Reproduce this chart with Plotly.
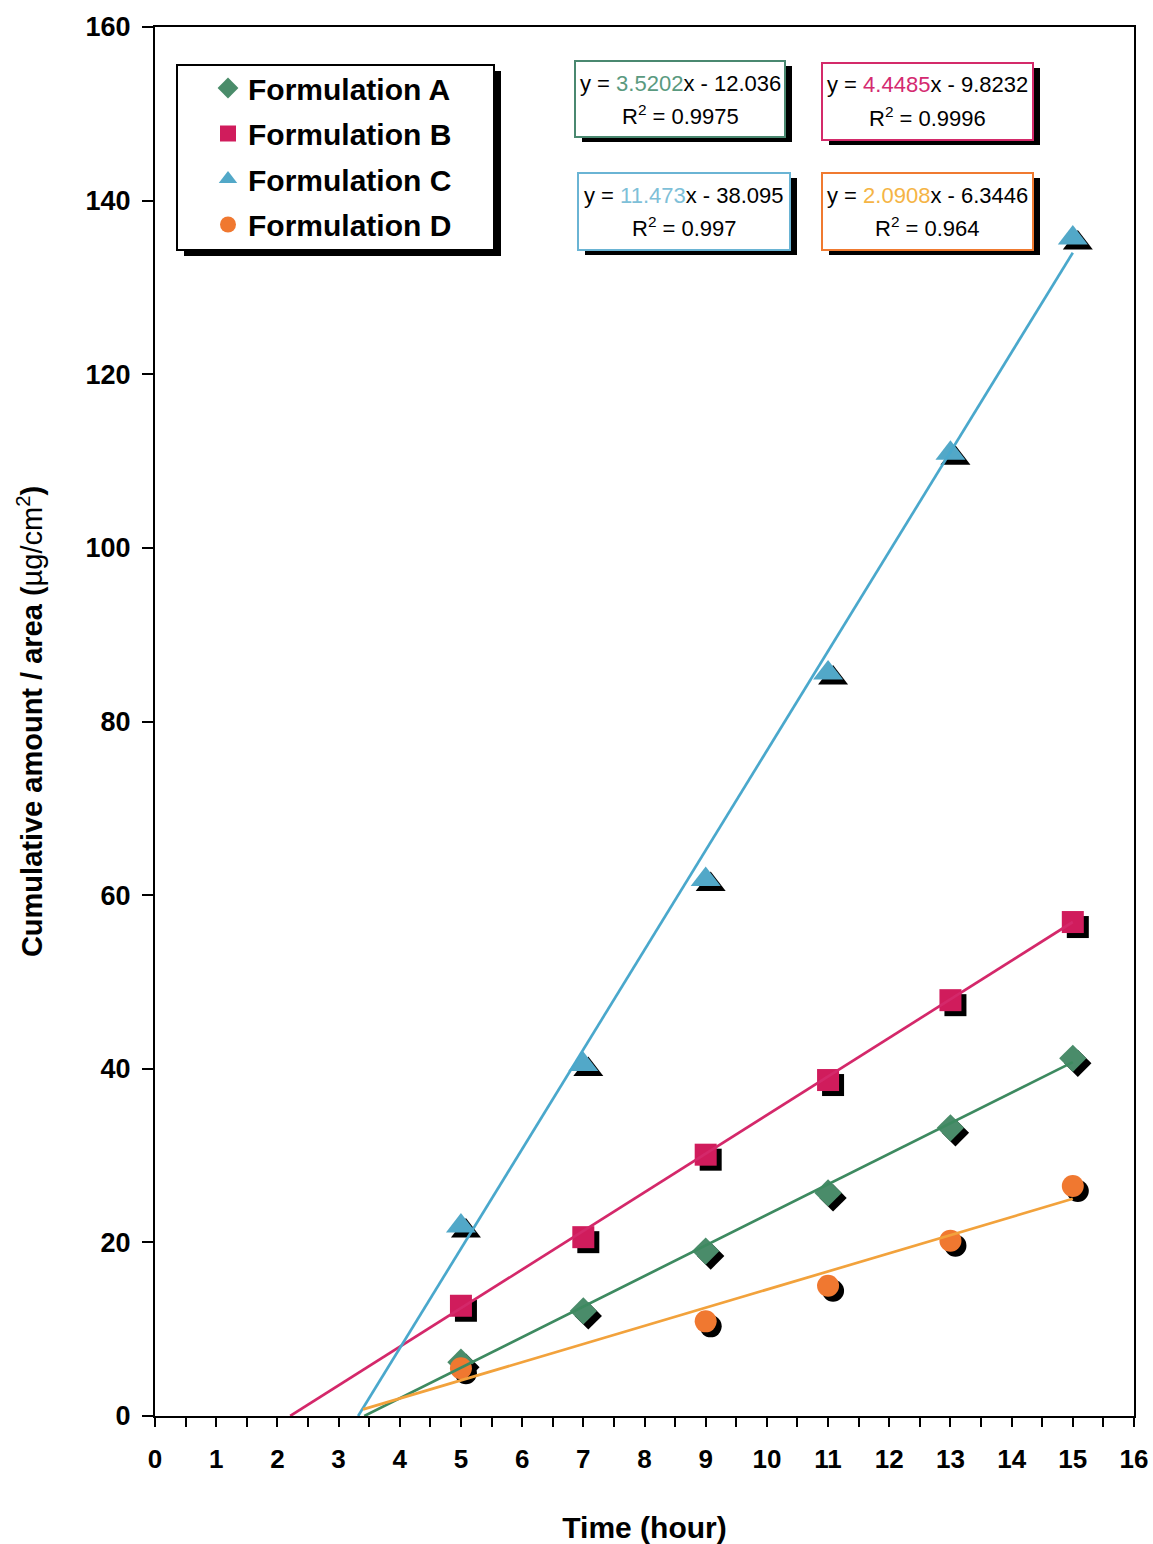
import plotly.graph_objects as go

# ---------------- data ----------------
time_h = [5, 7, 9, 11, 13, 15]
form_a = [6.2, 12.1, 19.0, 25.7, 33.2, 41.2]
form_b = [12.7, 20.6, 30.1, 38.7, 47.9, 56.9]
form_c = [21.9, 40.5, 61.8, 85.6, 110.9, 135.7]
time_d = [5, 9, 11, 13, 15]
form_d = [5.5, 10.9, 15.0, 20.2, 26.5]

names = ["Formulation A", "Formulation B", "Formulation C", "Formulation D"]
slopes = [3.5202, 4.4485, 11.473, 2.0908]
intercepts = [-12.036, -9.8232, -38.095, -6.3446]
slope_txt = ["3.5202", "4.4485", "11.473", "2.0908"]
icpt_txt = ["12.036", "9.8232", "38.095", "6.3446"]
r2_txt = ["0.9975", "0.9996", "0.997", "0.964"]
trend_start = [3.42, 2.21, 3.32, 3.40]
trend_end = 15

x_ticks = list(range(0, 17))
y_ticks = list(range(0, 161, 20))

# ---------------- style ----------------
W, H = 1153, 1544
ML, MR, MT, MB = 155, 19, 27, 128
PW, PH = W - ML - MR, H - MT - MB
XR, YR = [0, 16], [0, 160]

marker_cols = ["#4a8c6a", "#d01c5c", "#52a8c8", "#f07830"]
line_cols = ["#3d8a60", "#d4286a", "#4aa8cc", "#f2a23c"]
slope_cols = ["#5a9a80", "#d42a70", "#7ec0d8", "#f5b445"]
box_cols = ["#4a8870", "#d42a6a", "#6ab4d4", "#f07a30"]
symbols = ["diamond", "square", "triangle-up", "circle"]
sizes = [21, 22, 26, 22]
FONT = "Liberation Sans, Arial, sans-serif"

xs = [time_h, time_h, time_h, time_d]
ys = [form_a, form_b, form_c, form_d]

# shadow offset in data units (5 px right, 5 px down)
sdx = 5 * (XR[1] - XR[0]) / PW
sdy = 5 * (YR[1] - YR[0]) / PH

fig = go.Figure()

# marker shadows + markers (drawn series by series)
for i in range(4):
    fig.add_trace(go.Scatter(
        x=[v + sdx for v in xs[i]], y=[v - sdy for v in ys[i]], mode="markers",
        marker=dict(symbol=symbols[i], size=sizes[i], color="black"),
        showlegend=False, hoverinfo="skip"))
    fig.add_trace(go.Scatter(
        x=xs[i], y=ys[i], mode="markers", name=names[i],
        legendgroup=names[i],
        marker=dict(symbol=symbols[i], size=sizes[i], color=marker_cols[i])))

# trend lines (on top)
for i in range(4):
    tx = [trend_start[i], trend_end]
    ty = [slopes[i] * t + intercepts[i] for t in tx]
    fig.add_trace(go.Scatter(
        x=tx, y=ty, mode="lines", line=dict(color=line_cols[i], width=2.7),
        showlegend=False, hoverinfo="skip"))


def px(x):
    return (x - ML) / PW


def py(y):
    return (MT + PH - y) / PH


shapes = []
annotations = []

# legend box + shadow
lg = (177, 65, 494, 250)
shapes.append(dict(type="rect", xref="paper", yref="paper",
                   x0=px(lg[0] + 7), x1=px(lg[2] + 7), y0=py(lg[3] + 6), y1=py(lg[1] + 6),
                   fillcolor="black", line=dict(width=0), layer="above"))
shapes.append(dict(type="rect", xref="paper", yref="paper",
                   x0=px(lg[0]), x1=px(lg[2]), y0=py(lg[3]), y1=py(lg[1]),
                   fillcolor="white", line=dict(color="black", width=2), layer="above"))

# equation boxes
boxes = [(575, 61, 785, 137), (822, 63, 1033, 140), (578, 173, 790, 250), (822, 173, 1033, 250)]
for i, b in enumerate(boxes):
    shapes.append(dict(type="rect", xref="paper", yref="paper",
                       x0=px(b[0] + 7), x1=px(b[2] + 7), y0=py(b[3] + 5), y1=py(b[1] + 5),
                       fillcolor="black", line=dict(width=0), layer="above"))
    shapes.append(dict(type="rect", xref="paper", yref="paper",
                       x0=px(b[0]), x1=px(b[2]), y0=py(b[3]), y1=py(b[1]),
                       fillcolor="white", line=dict(color=box_cols[i], width=2), layer="above"))
    line1 = f"y = <span style='color:{slope_cols[i]}'>{slope_txt[i]}</span>x - {icpt_txt[i]}"
    line2 = f"R<sup>2</sup> = {r2_txt[i]}"
    cx = px((b[0] + b[2]) / 2)
    for txt, dy in ((line1, 22), (line2, 54)):
        annotations.append(dict(xref="paper", yref="paper", x=cx,
                                y=py(b[1] + dy), xanchor="center", yanchor="middle",
                                text=txt, showarrow=False, align="center",
                                font=dict(family=FONT, size=22, color="black")))

fig.update_layout(
    width=W, height=H,
    margin=dict(l=ML, r=MR, t=MT, b=MB, autoexpand=False),
    paper_bgcolor="white", plot_bgcolor="white",
    showlegend=True,
    legend=dict(x=px(208), y=py(62), xanchor="left", yanchor="top",
                bgcolor="rgba(0,0,0,0)", borderwidth=0,
                font=dict(family=FONT, size=30, color="black", weight="bold"),
                traceorder="grouped", tracegroupgap=3.5, itemsizing="trace"),
    shapes=shapes, annotations=annotations,
)

fig.update_xaxes(
    range=XR, tickmode="array", tickvals=x_ticks, ticktext=[str(v) for v in x_ticks],
    showline=True, linecolor="black", linewidth=2, mirror=True,
    ticks="outside", ticklen=9, tickwidth=2, tickcolor="black",
    minor=dict(dtick=0.5, ticks="outside", ticklen=9, tickwidth=2, tickcolor="black"),
    showgrid=False, zeroline=False, ticklabelstandoff=10,
    tickfont=dict(family=FONT, size=26, color="black", weight="bold"),
    title=dict(text="Time (hour)", standoff=46,
               font=dict(family=FONT, size=30, color="black", weight="bold")),
    automargin=False,
)
fig.update_yaxes(
    range=YR, tickmode="array", tickvals=y_ticks, ticktext=[str(v) for v in y_ticks],
    showline=True, linecolor="black", linewidth=2, mirror=True,
    ticks="outside", ticklen=11, tickwidth=2, tickcolor="black",
    showgrid=False, zeroline=False, ticklabelstandoff=6,
    tickfont=dict(family=FONT, size=27, color="black", weight="bold"),
    title=dict(text="Cumulative amount / area (<span style='font-weight:normal'>µg/cm<sup>2</sup></span>)",
               standoff=34,
               font=dict(family=FONT, size=29, color="black", weight="bold")),
    automargin=False,
)

fig.write_html("out.html")
